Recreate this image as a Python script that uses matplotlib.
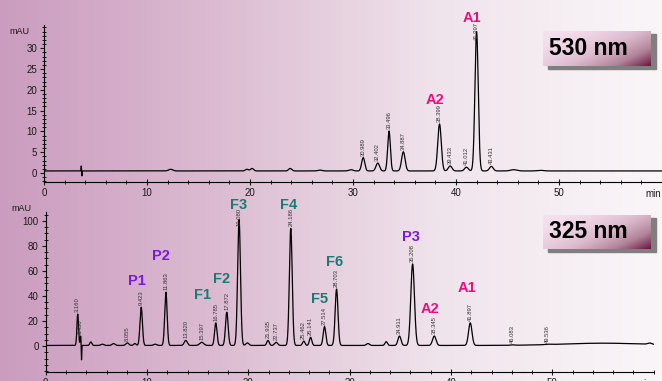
#Importing Libraries

import numpy as np
import matplotlib
matplotlib.use('Agg')
import matplotlib.pyplot as plt
from matplotlib.colors import LinearSegmentedColormap
from matplotlib.patches import Rectangle

plt.rcParams['font.family'] = ['Liberation Sans', 'DejaVu Sans']

#Data

# 530 nm trace: labelled peaks (retention time, height in mAU, width sigma in min)
top_times = [30.989, 32.402, 33.496, 34.887, 38.399, 39.433, 41.012, 41.997, 43.431]
top_heights = [3.2, 1.9, 9.6, 4.6, 11.3, 1.2, 0.9, 33.5, 1.1]
top_sigmas = [0.15, 0.17, 0.13, 0.17, 0.17, 0.18, 0.18, 0.16, 0.18]
# small unlabelled bumps and the injection spike
top_small_times = [3.62, 3.68, 12.3, 19.7, 20.2, 23.9, 26.8, 29.8, 45.6, 48.2]
top_small_heights = [1.2, -1.2, 0.4, 0.4, 0.6, 0.6, 0.2, 0.3, 0.3, 0.15]
top_small_sigmas = [0.02, 0.02, 0.2, 0.15, 0.15, 0.15, 0.2, 0.2, 0.3, 0.3]
top_baseline = 0.5

# 325 nm trace
bot_times = [3.160, 3.450, 8.055, 9.423, 11.863, 13.820, 15.397, 16.785, 17.872, 19.080,
             21.935, 22.737, 24.186, 25.462, 26.141, 27.514, 28.703, 34.911, 36.208,
             38.345, 41.897, 46.083, 49.536]
bot_heights = [25.0, 7.5, 2.0, 30.5, 42.5, 4.0, 2.5, 18.0, 26.5, 100.5,
               4.0, 2.5, 93.5, 3.5, 6.5, 15.0, 45.0, 7.5, 65.0,
               7.5, 18.0, 0.3, 0.3]
bot_sigmas = [0.08, 0.05, 0.15, 0.12, 0.12, 0.15, 0.2, 0.12, 0.13, 0.14,
              0.12, 0.15, 0.14, 0.12, 0.12, 0.13, 0.14, 0.15, 0.18,
              0.17, 0.17, 0.2, 0.2]
bot_small_times = [3.53, 4.45, 5.6, 6.7, 8.8, 10.8, 19.9, 31.8, 33.6, 55.0, 59.6]
bot_small_heights = [-13.5, 2.8, 1.0, 1.5, 1.5, 1.0, 2.0, 1.5, 3.0, 1.8, 1.0]
bot_small_sigmas = [0.025, 0.1, 0.15, 0.15, 0.12, 0.15, 0.15, 0.15, 0.12, 4.0, 0.2]
bot_baseline = 0.5

# compound labels (name, time, mAU)
top_names = ['A2', 'A1']
top_name_x = [37.96, 41.55]
top_name_y = [17.5, 37.3]

bot_names = ['P1', 'P2', 'F1', 'F2', 'F3', 'F4', 'F5', 'F6', 'P3', 'A2', 'A1']
bot_name_x = [8.97, 11.37, 15.48, 17.35, 19.0, 23.93, 26.98, 28.5, 36.0, 37.93, 41.6]
bot_name_y = [52.1, 72.1, 40.7, 53.2, 112.5, 112.5, 37.3, 67.3, 87.2, 29.5, 46.0]

name_colors = {'A': '#e8107e', 'P': '#7a1ad8', 'F': '#1a7a74'}

#Building the traces from the peak tables

t = np.linspace(0, 60, 12001)

def trace(times, heights, sigmas, base):
    y = np.full_like(t, base)
    for rt, h, s in zip(times, heights, sigmas):
        y += h * np.exp(-0.5 * ((t - rt) / s) ** 2)
    return y

y_top = trace(top_times + top_small_times, top_heights + top_small_heights,
              top_sigmas + top_small_sigmas, top_baseline)
y_bot = trace(bot_times + bot_small_times, bot_heights + bot_small_heights,
              bot_sigmas + bot_small_sigmas, bot_baseline)

#Figure and background

fig = plt.figure(figsize=(6.62, 3.81), dpi=100)
bg = fig.add_axes([0, 0, 1, 1], zorder=-5)
bg_cmap = LinearSegmentedColormap.from_list('bg', ['#cb9cbf', '#dcbcd2', '#f0e4ec', '#faf6f8'])
bg.imshow(np.linspace(0, 1, 400)[None, :], cmap=bg_cmap, aspect='auto', extent=[0, 1, 0, 1])
bg.axis('off')

box_cmap = LinearSegmentedColormap.from_list('box', ['#f6e0f0', '#dcbacd', '#b08298', '#6a1540'])

def nm_box(x0, y0, x1, y1, text):
    W, H = 662.0, 381.0
    fig.patches.append(Rectangle(((x0 + 5) / W, 1 - (y1 + 3) / H), (x1 - x0) / W, (y1 - y0) / H,
                                 transform=fig.transFigure, color='#7f7f7f', zorder=1))
    bx = fig.add_axes([x0 / W, 1 - y1 / H, (x1 - x0) / W, (y1 - y0) / H], zorder=2)
    u = np.linspace(0, 1, 120)[None, :]
    v = np.linspace(0, 1, 40)[:, None]
    g = (0.6 * u + 0.4 * v) ** 1.8
    bx.imshow(g, cmap=box_cmap, aspect='auto', extent=[0, 1, 0, 1], origin='upper')
    bx.axis('off')
    bx.text(0.06, 0.5, text, fontsize=16.5, fontweight='bold', color='black',
            ha='left', va='center', transform=bx.transAxes)

#Axes

def style_axes(ax, ymin, ymax, ytop, major, minor, ylabel_y):
    ax.set_facecolor('none')
    ax.set_xlim(0, 60)
    ax.set_ylim(ymin, ymax)
    for s in ['top', 'right']:
        ax.spines[s].set_visible(False)
    ax.set_xticks([0, 10, 20, 30, 40, 50])
    ax.set_xticks(np.arange(0, 61, 2), minor=True)
    ax.set_yticks(np.arange(0, ytop + 1, major))
    ax.set_yticks(np.arange(minor * np.ceil(ymin / minor), ymax, minor), minor=True)
    ax.tick_params(axis='both', which='major', labelsize=7, length=4, width=0.8,
                   direction='inout', pad=2, colors='#1a1a1a')
    ax.tick_params(axis='both', which='minor', length=2.5, width=0.6, direction='inout')
    ax.tick_params(axis='y', which='major', direction='out', length=3)
    ax.text(-0.04, ylabel_y, 'mAU', fontsize=6.5, ha='center', va='center',
            transform=ax.get_yaxis_transform(), color='#1a1a1a')
    ax.text(0.985, -0.075, 'min', fontsize=7, ha='center', va='center',
            transform=ax.transAxes, color='#1a1a1a')

ax1 = fig.add_axes([44 / 662, 1 - 182 / 381, 618 / 662, 157 / 381])
ax2 = fig.add_axes([45.7 / 662, 1 - 372 / 381, 608 / 662, 160 / 381])

style_axes(ax1, -2.16, 35.6, 30, 5, 1, 34.1)
style_axes(ax2, -20.7, 107, 100, 20, 5, 110)

ax1.plot(t, y_top, color='black', lw=0.9)
ax2.plot(t, y_bot, color='black', lw=0.9)

#Retention time labels

def rt_labels(ax, times, heights, base, cap):
    for rt, h in zip(times, heights):
        ax.annotate('%.3f' % rt, (rt, min(base + h, cap)), xytext=(0, 1.5),
                    textcoords='offset points', rotation=90, fontsize=4.2,
                    ha='center', va='bottom', color='#333333')

rt_labels(ax1, top_times, top_heights, top_baseline, 31.5)
rt_labels(ax2, bot_times, bot_heights, bot_baseline, 94)

#Compound labels

for ax, names, xs, ys in [(ax1, top_names, top_name_x, top_name_y),
                          (ax2, bot_names, bot_name_x, bot_name_y)]:
    for n, x, y in zip(names, xs, ys):
        ax.text(x, y, n, fontsize=10.5, fontweight='bold', color=name_colors[n[0]],
                ha='center', va='center', clip_on=False)

nm_box(543, 31, 651, 66, '530 nm')
nm_box(543, 215, 651, 249, '325 nm')

fig.savefig('out.png', dpi=100)
